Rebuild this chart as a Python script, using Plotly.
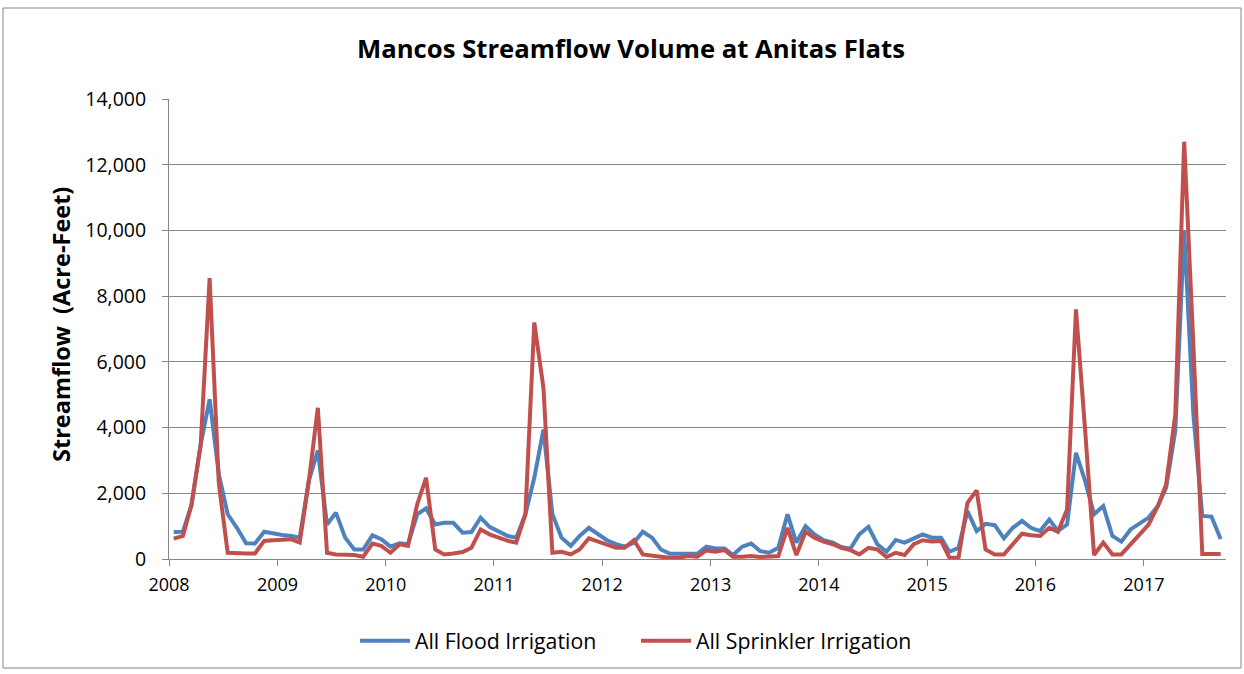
import plotly.graph_objects as go
import pandas as pd

months = pd.date_range("2008-01-01", periods=117, freq="MS") + pd.Timedelta(days=16)

flood = [
    820, 830, 1650, 3490, 4860, 2580, 1360, 950, 480, 470, 830, 770,      # 2008
    730, 700, 650, 2400, 3300, 1050, 1410, 650, 290, 290, 720, 600,      # 2009
    375, 480, 450, 1360, 1540, 1050, 1100, 1100, 800, 820, 1260, 980,     # 2010
    850, 700, 650, 1360, 2470, 3940, 1360, 650, 400, 700, 950, 750,       # 2011
    570, 450, 375, 500, 830, 650, 290, 160, 160, 140, 160, 375,           # 2012
    320, 320, 120, 375, 470, 240, 190, 340, 1360, 500, 1000, 750,         # 2013
    570, 500, 365, 310, 750, 980, 450, 220, 580, 500, 630, 750,           # 2014
    650, 650, 220, 340, 1460, 850, 1070, 1030, 630, 950, 1160, 950,       # 2015
    850, 1200, 850, 1050, 3230, 2370, 1360, 1610, 700, 530, 900, 1080,    # 2016
    1260, 1610, 2170, 3900, 10000, 4400, 1310, 1290, 610,                 # 2017
]

sprinkler = [
    620, 700, 1650, 3490, 8550, 2300, 190, 170, 170, 170, 550, 570,       # 2008
    570, 600, 500, 2400, 4600, 190, 140, 140, 120, 70, 470, 400,          # 2009
    190, 450, 400, 1660, 2470, 290, 140, 170, 210, 340, 900, 750,         # 2010
    650, 550, 500, 1360, 7200, 5200, 190, 220, 140, 290, 630, 530,        # 2011
    430, 340, 340, 570, 140, 120, 70, 40, 40, 90, 70, 260,                # 2012
    220, 270, 70, 70, 90, 60, 60, 90, 950, 120, 830, 650,                 # 2013
    530, 450, 340, 270, 140, 340, 290, 60, 190, 120, 450, 570,            # 2014
    530, 550, 40, 40, 1710, 2090, 290, 140, 140, 450, 770, 720,           # 2015
    700, 950, 830, 1510, 7600, 3900, 120, 500, 140, 140, 450, 750,        # 2016
    1050, 1610, 2270, 4400, 12700, 6500, 150, 150, 150,                   # 2017
]

series_names = ["All Flood Irrigation", "All Sprinkler Irrigation"]
series_colors = ["#4F81BD", "#C0504D"]

FONT = "Open Sans"

fig = go.Figure()
for name, vals, col in zip(series_names, [flood, sprinkler], series_colors):
    fig.add_trace(go.Scatter(x=months, y=vals, mode="lines", name=name,
                             line=dict(color=col, width=4)))

L, R, T, B = 169, 18, 99, 115
W, H = 1244, 674
pw, ph = W - L - R, H - T - B

def px(x):
    return (x - L) / pw

def py(y):
    return (H - B - y) / ph

fig.update_layout(
    width=W, height=H,
    margin=dict(l=L, r=R, t=T, b=B),
    paper_bgcolor="white", plot_bgcolor="white",
    font=dict(family=FONT, color="#000000"),
    title=dict(text="<b>Mancos Streamflow Volume at Anitas Flats</b>",
               x=631 / W, xref="container", xanchor="center",
               y=1 - 49 / H, yref="container", yanchor="middle",
               font=dict(family=FONT, size=25.7, color="#000000")),
    showlegend=True,
    legend=dict(orientation="h", x=px(636), xanchor="center",
                y=py(641), yanchor="middle",
                font=dict(family=FONT, size=21.3, color="#000000"),
                itemwidth=50, entrywidth=216, traceorder="normal"),
    xaxis=dict(type="date", range=["2008-01-01", "2017-10-05"],
               dtick="M12", tick0="2008-01-01", tickformat="%Y",
               ticks="outside", ticklen=6, tickcolor="#868686",
               showline=True, linecolor="#868686", linewidth=1,
               showgrid=False, zeroline=False, ticklabelstandoff=3,
               tickfont=dict(family=FONT, size=18, color="#000000")),
    yaxis=dict(range=[0, 14000], dtick=2000, tickformat=",d",
               ticks="outside", ticklen=6, tickcolor="#868686",
               showline=True, linecolor="#868686", linewidth=1,
               showgrid=True, gridcolor="#868686", gridwidth=1,
               zeroline=False, ticklabelstandoff=12,
               tickfont=dict(family=FONT, size=19.5, color="#000000")),
    annotations=[dict(text="<b>Streamflow  (Acre-Feet)</b>", textangle=-90,
                      x=px(61), y=py(325), xref="paper", yref="paper",
                      xanchor="center", yanchor="middle", showarrow=False,
                      font=dict(family=FONT, size=23.5, color="#000000"))],
    shapes=[dict(type="rect", xref="paper", yref="paper",
                 x0=px(3), x1=px(1241), y0=py(668), y1=py(8),
                 line=dict(color="#868686", width=1), layer="below")],
)

fig.write_html("out.html", config={"displayModeBar": False},
               post_script="document.body.style.margin='0px';")
